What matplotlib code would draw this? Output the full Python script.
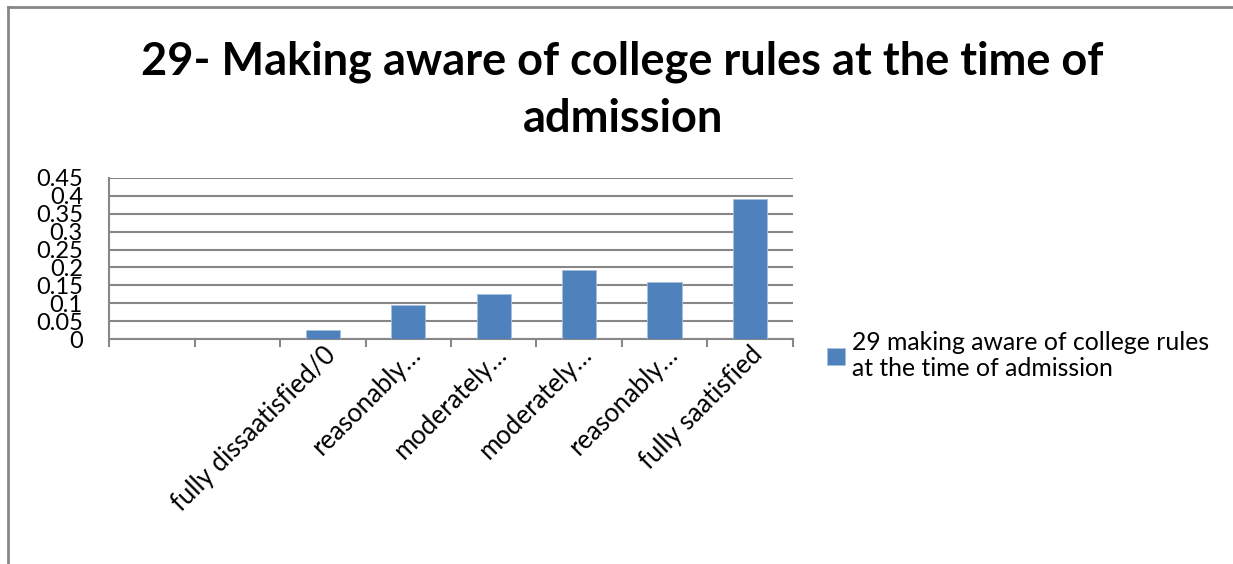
import matplotlib.pyplot as plt
from matplotlib.lines import Line2D
import numpy as np

plt.rcParams['font.family'] = ['Lato', 'DejaVu Sans']

# categories (first two are blank in the source chart)
categories = ['', '', 'fully dissaatisfied/0', 'reasonably…', 'moderately…',
              'moderately…', 'reasonably…', 'fully saatisfied']
values = [0, 0, 0.025, 0.096, 0.127, 0.194, 0.159, 0.391]
series_name = '29 making aware of college rules\nat the time of admission'
title = '29- Making aware of college rules at the time of\nadmission'

bar_color = '#4F81BD'
grid_color = '#878787'

fig = plt.figure(figsize=(12.33, 5.64), dpi=100)
ax = fig.add_axes([0.0886, 0.3984, 0.5543, 0.2866])

x = np.arange(len(categories))
bars = ax.bar(x, values, width=0.4, color=bar_color, edgecolor='#A7BFDE',
              linewidth=0.6, label=series_name, zorder=3)

ax.set_xlim(-0.5, len(categories) - 0.5)
ax.set_ylim(0, 0.45)
ax.set_yticks(np.arange(0, 0.451, 0.05))
ax.set_yticklabels(['0', '0.05', '0.1', '0.15', '0.2', '0.25', '0.3', '0.35', '0.4', '0.45'])
ax.yaxis.grid(True, color=grid_color, linewidth=1.5, zorder=0)
ax.tick_params(axis='y', length=0, labelsize=17, pad=19)

# category boundary ticks, labels centered under each bar
ax.set_xticks(np.arange(-0.5, len(categories), 1.0))
ax.set_xticklabels([])
ax.set_xticks(x, minor=True)
ax.set_xticklabels(categories, minor=True, rotation=45, ha='right',
                   rotation_mode='anchor', fontsize=18.5)
ax.tick_params(axis='x', which='major', length=6, color=grid_color, width=1.5)
ax.tick_params(axis='x', which='minor', length=0, pad=2)

for s in ['top', 'right']:
    ax.spines[s].set_visible(False)
ax.spines['left'].set_color(grid_color)
ax.spines['left'].set_linewidth(1.5)
ax.spines['bottom'].set_color(grid_color)
ax.spines['bottom'].set_linewidth(1.5)

fig.text(0.505, 0.840, title, ha='center', va='center', fontsize=32.5,
         fontweight='bold', linespacing=1.45)

fig.legend(handles=[bars], labels=[series_name], loc='upper left',
           bbox_to_anchor=(0.671, 0.414), frameon=False, fontsize=17.8,
           handlelength=0.7, handleheight=0.7, handletextpad=0.3,
           borderaxespad=0, borderpad=0, labelspacing=0)

# outer chart border (left and top edges visible)
fig.add_artist(Line2D([0.0065, 0.0065], [0, 0.988], transform=fig.transFigure,
                      color=grid_color, linewidth=2))
fig.add_artist(Line2D([0.0065, 1.0], [0.988, 0.988], transform=fig.transFigure,
                      color=grid_color, linewidth=2))

fig.savefig('out.png', dpi=100)
